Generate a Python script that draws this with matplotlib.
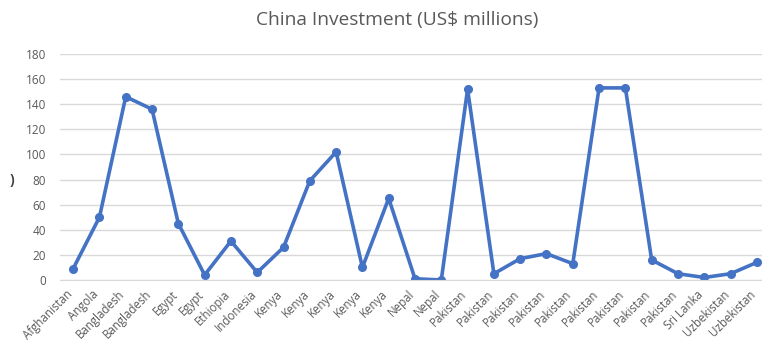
import matplotlib.pyplot as plt
import matplotlib.transforms as mtransforms
import numpy as np

plt.rcParams['font.family'] = ['Open Sans', 'DejaVu Sans']

# countries (one point per project)
countries = ['Afghanistan', 'Angola', 'Bangladesh', 'Bangladesh', 'Egypt', 'Egypt',
             'Ethiopia', 'Indonesia', 'Kenya', 'Kenya', 'Kenya', 'Kenya', 'Kenya',
             'Nepal', 'Nepal', 'Pakistan', 'Pakistan', 'Pakistan', 'Pakistan',
             'Pakistan', 'Pakistan', 'Pakistan', 'Pakistan', 'Pakistan',
             'Sri Lanka', 'Uzbekistan', 'Uzbekistan']
investment = [9, 50, 146, 136, 45, 4, 31, 6, 26, 79, 102, 10, 65, 1, 0,
              152, 5, 17, 21, 13, 153, 153, 16, 5, 2, 5, 14]
yticks = [0, 20, 40, 60, 80, 100, 120, 140, 160, 180]

fig = plt.figure(figsize=(7.62, 3.47), dpi=100)
ax = fig.add_axes([60/762, 67/347, 710/762, 226/347])

x = np.arange(len(countries))
ax.plot(x, investment, color='#4472C4', linewidth=2.6, marker='o', markersize=5.5)

ax.set_xlim(-0.5, len(countries) - 0.5)
ax.set_ylim(0, 180)
ax.set_yticks(yticks)
ax.set_xticks(x)
ax.set_xticklabels(countries, rotation=45, ha='right', va='center',
                   rotation_mode='anchor', fontsize=8.3, color='#595959')
ax.tick_params(axis='y', labelsize=8.5, labelcolor='#595959', length=0, pad=10)
ax.tick_params(axis='x', length=0, pad=9)
# nudge labels a touch left so the last one stays inside the figure
shift = mtransforms.ScaledTranslation(-2/72, 0, fig.dpi_scale_trans)
for lab in ax.get_xticklabels():
    lab.set_transform(lab.get_transform() + shift)

ax.grid(axis='y', color='#D9D9D9', linewidth=1)
ax.set_axisbelow(True)
for s in ['top', 'right', 'left']:
    ax.spines[s].set_visible(False)
ax.spines['bottom'].set_color('#D9D9D9')

fig.text(397/762, 1 - 20/347, 'China Investment (US$ millions)', fontsize=13.8,
         color='#595959', va='center', ha='center')
fig.text(12/762, 1 - 180/347, ')', fontsize=10, color='#404040', va='center',
         ha='center', fontweight='bold')

plt.savefig('out.png', dpi=100)
